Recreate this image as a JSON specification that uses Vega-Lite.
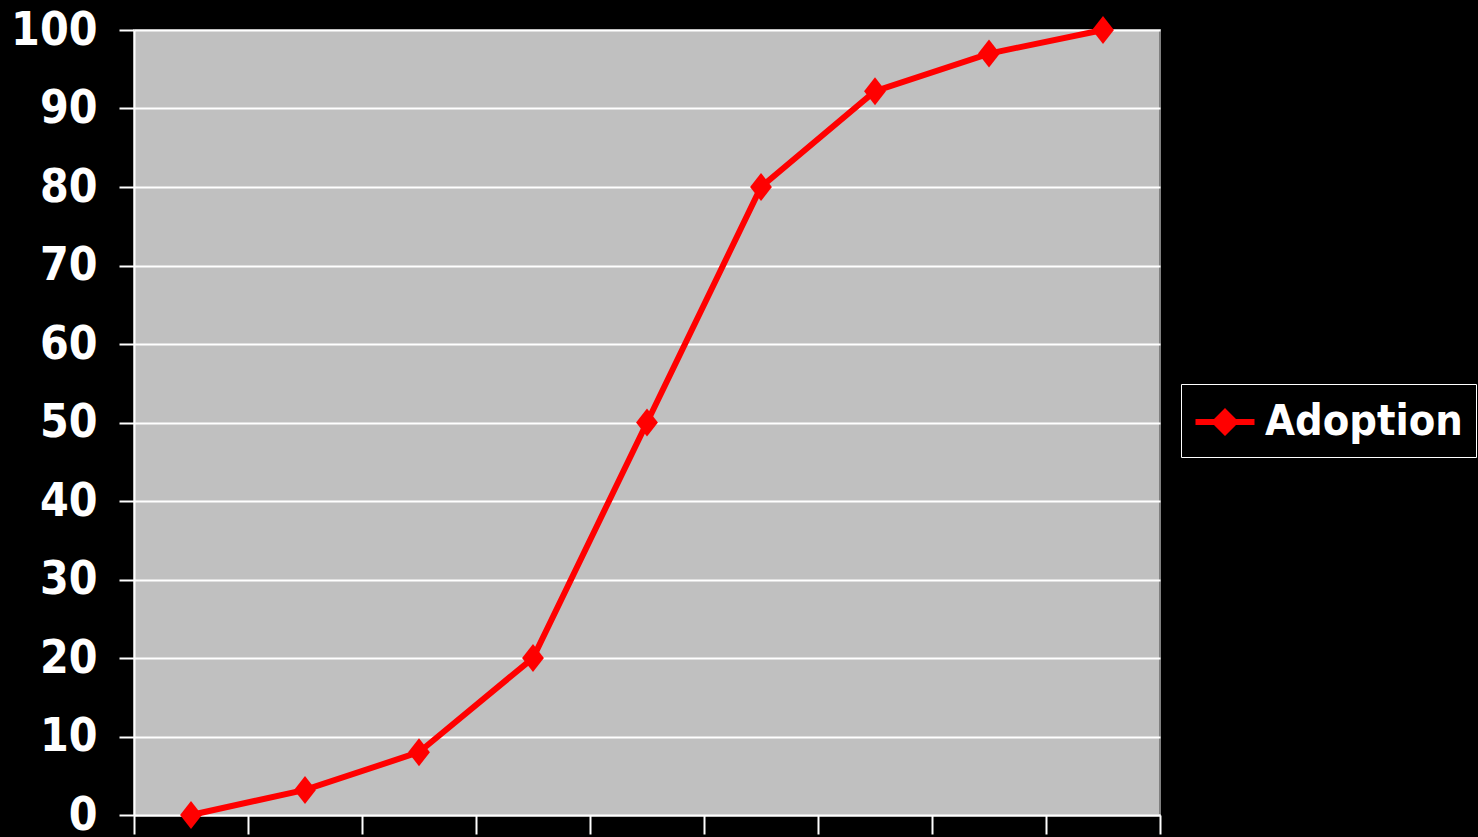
{
  "$schema": "https://vega.github.io/schema/vega-lite/v6.json",
  "width": 1026,
  "height": 785,
  "autosize": {"type": "none"},
  "padding": {"left": 134, "top": 30, "right": 318, "bottom": 22},
  "background": "#000000",
  "config": {
    "view": {"fill": "#C0C0C0", "stroke": "#808080", "strokeWidth": 2},
    "font": "DejaVu Sans Condensed, DejaVu Sans"
  },
  "data": {
    "values": [
      {"step": "1", "adoption": 0, "series": "Adoption"},
      {"step": "2", "adoption": 3.2, "series": "Adoption"},
      {"step": "3", "adoption": 8, "series": "Adoption"},
      {"step": "4", "adoption": 20, "series": "Adoption"},
      {"step": "5", "adoption": 50, "series": "Adoption"},
      {"step": "6", "adoption": 80, "series": "Adoption"},
      {"step": "7", "adoption": 92.2, "series": "Adoption"},
      {"step": "8", "adoption": 97, "series": "Adoption"},
      {"step": "9", "adoption": 100, "series": "Adoption"}
    ]
  },
  "encoding": {
    "x": {
      "field": "step",
      "type": "ordinal",
      "scale": {"type": "band", "paddingInner": 0, "paddingOuter": 0},
      "axis": {
        "title": null,
        "labels": false,
        "ticks": true,
        "tickBand": "extent",
        "tickSize": 19,
        "tickColor": "#FFFFFF",
        "tickWidth": 2,
        "domainColor": "#FFFFFF",
        "domainWidth": 2,
        "grid": false
      }
    },
    "y": {
      "field": "adoption",
      "type": "quantitative",
      "scale": {"domain": [0, 100], "nice": false},
      "axis": {
        "title": null,
        "values": [0, 10, 20, 30, 40, 50, 60, 70, 80, 90, 100],
        "labelFont": "DejaVu Sans Condensed, DejaVu Sans",
        "labelFontSize": 46,
        "labelFontWeight": "bold",
        "labelColor": "#FFFFFF",
        "labelPadding": 22,
        "tickSize": 15,
        "tickColor": "#FFFFFF",
        "tickWidth": 2,
        "domainColor": "#FFFFFF",
        "domainWidth": 2,
        "grid": true,
        "gridColor": "#FFFFFF",
        "gridWidth": 2,
        "gridOpacity": 1
      }
    }
  },
  "layer": [
    {
      "mark": {"type": "line", "color": "#FF0000", "strokeWidth": 6}
    },
    {
      "mark": {
        "type": "point",
        "filled": true,
        "opacity": 1,
        "shape": "M0,-1L0.78,0L0,1L-0.78,0Z",
        "size": 784
      },
      "encoding": {
        "color": {
          "field": "series",
          "type": "nominal",
          "scale": {"domain": ["Adoption"], "range": ["#FF0000"]},
          "legend": {
            "title": null,
            "orient": "none",
            "legendX": 1047,
            "legendY": 354,
            "fillColor": "#000000",
            "strokeColor": "#FFFFFF",
            "padding": 13,
            "symbolType": "M-1.18,-0.12H-0.44L0,-0.56L0.44,-0.12H1.18V0.12H0.44L0,0.56L-0.44,0.12H-1.18Z",
            "symbolSize": 2500,
            "symbolStrokeWidth": 0,
            "symbolOpacity": 1,
            "symbolOffset": 6,
            "labelOffset": 15,
            "labelFont": "DejaVu Sans Condensed, DejaVu Sans",
            "labelFontSize": 43,
            "labelFontWeight": "bold",
            "labelColor": "#FFFFFF",
            "labelLimit": 400
          }
        }
      }
    }
  ]
}
